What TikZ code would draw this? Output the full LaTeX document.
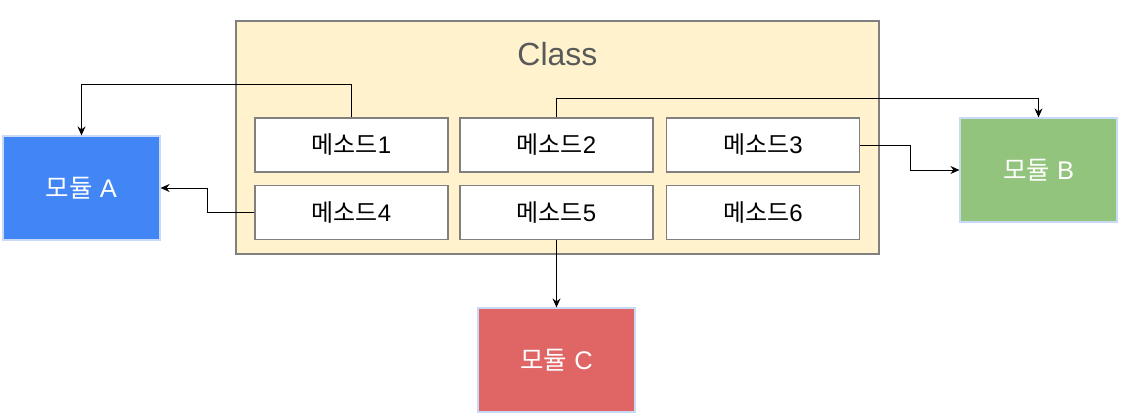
\documentclass[tikz,border=0pt]{standalone}
\usepackage{fontspec}
\setmainfont{Liberation Sans}
\newfontfamily\kr{Noto Sans CJK KR}
\usetikzlibrary{arrows.meta}
\definecolor{classfill}{HTML}{FFF2CC}
\definecolor{classdraw}{HTML}{808080}
\definecolor{modA}{HTML}{4285F4}
\definecolor{modB}{HTML}{93C47D}
\definecolor{modC}{HTML}{E06666}
\definecolor{modline}{HTML}{C9DAF8}
\definecolor{classtext}{HTML}{595959}
\begin{document}
\begin{tikzpicture}[x=1pt,y=-1pt,
  classbox/.style={draw=classdraw,fill=classfill,line width=1.2pt,minimum width=643pt,minimum height=233pt,inner sep=0pt},
  methbox/.style={draw=classdraw,fill=white,line width=1.4pt,minimum width=193pt,minimum height=54pt,inner sep=0pt,
    font=\fontsize{24}{28}\selectfont},
  modbox/.style={draw=modline,line width=1.2pt,minimum width=157pt,minimum height=104pt,inner sep=0pt,text=white,
    font=\fontsize{25.5}{30}\selectfont},
  conn/.style={draw=black,line width=1pt,-{Stealth[length=9pt,width=8pt,inset=3pt]}}
]
\useasboundingbox (0,0) rectangle (1121,415);
\node[classbox] (cls) at (557.5,137.5) {};
\node[text=classtext,font=\fontsize{32}{38}\selectfont] (clslabel) at (557.5,54) {Class};
\node[methbox] (m1) at (351.5,145) {{\kr 메소드}1};
\node[methbox] (m2) at (556.5,145) {{\kr 메소드}2};
\node[methbox] (m3) at (763,145) {{\kr 메소드}3};
\node[methbox] (m4) at (351.5,212.5) {{\kr 메소드}4};
\node[methbox] (m5) at (556.5,212.5) {{\kr 메소드}5};
\node[methbox] (m6) at (763,212.5) {{\kr 메소드}6};
\node[modbox,fill=modA] (a) at (81.5,188) {{\kr 모듈} A};
\node[modbox,fill=modB] (b) at (1038.5,170) {{\kr 모듈} B};
\node[modbox,fill=modC] (c) at (556.5,360) {{\kr 모듈} C};
\coordinate (c1) at (81.5,84);
\coordinate (c2) at (207.5,188);
\coordinate (c3) at (1038.5,98);
\coordinate (c4) at (910,170);
\draw[conn] (m1.north) |- (c1) -- (a.north);
\draw[conn] (m4.west) -| (c2) -- (a.east);
\draw[conn] (m2.north) |- (c3) -- (b.north);
\draw[conn] (m3.east) -| (c4) -- (b.west);
\draw[conn] (m5.south) -- (c.north);
\end{tikzpicture}
\end{document}
